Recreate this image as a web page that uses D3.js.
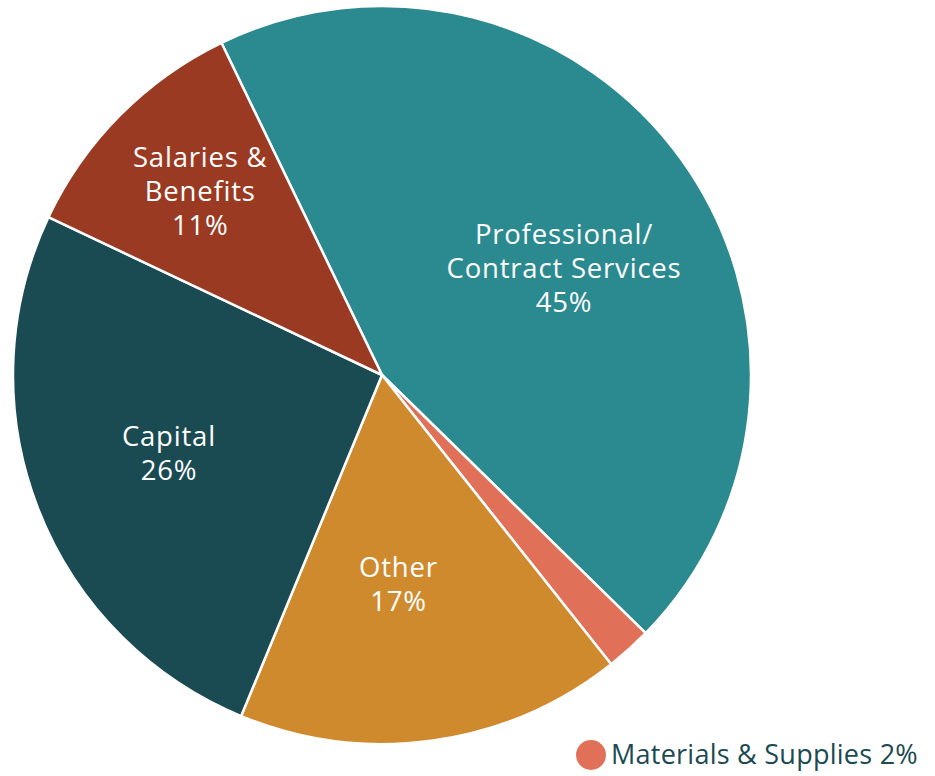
<!DOCTYPE html>
<html>
<head>
<meta charset="utf-8">
<script src="https://cdn.jsdelivr.net/npm/d3@7"></script>
<style>
  html, body { margin: 0; padding: 0; background: #fff; }
  svg { display: block; font-family: "Open Sans", sans-serif; }
</style>
</head>
<body>
<div id="grafico"></div>
<script>
// datos del grafico
const categorias = ["Professional/Contract Services", "Materials & Supplies", "Other", "Capital", "Salaries & Benefits"];
const valores = [44.5, 2.0, 16.9, 25.8, 10.8];
const etiquetas = [
  ["Professional/", "Contract Services", "45%"],
  [],
  ["Other", "17%"],
  ["Capital", "26%"],
  ["Salaries &", "Benefits", "11%"]
];
const leyenda = "Materials & Supplies 2%";
const colores = ["#2a8a8f", "#e07058", "#d08a2e", "#1a4a52", "#9a3a22"];

const width = 935, height = 776;
const cx = 382, cy = 375, radio = 369;
const startAngle = -25.8 * Math.PI / 180;

const svg = d3.select("#grafico").append("svg")
  .attr("width", width)
  .attr("height", height);

const g = svg.append("g").attr("transform", `translate(${cx},${cy})`);

const pie = d3.pie()
  .sort(null)
  .value(d => d)
  .startAngle(startAngle)
  .endAngle(startAngle + 2 * Math.PI);

const arcs = pie(valores);
const arc = d3.arc().innerRadius(0).outerRadius(radio);

g.selectAll("path")
  .data(arcs)
  .enter().append("path")
  .attr("d", arc)
  .attr("fill", (d, i) => colores[i])
  .attr("stroke", "#fff")
  .attr("stroke-width", 2.5)
  .attr("stroke-linejoin", "round");

// radio de la etiqueta por sector
const factorEtiqueta = [0.572, 0, 0.57, 0.615, 0.70];
const giroEtiqueta = [5.3, 0, 3.5, 1, 0.5]; // grados
const lineHeight = 34;

arcs.forEach((d, i) => {
  const lineas = etiquetas[i];
  if (!lineas.length) return;
  const a = (d.startAngle + d.endAngle) / 2 + giroEtiqueta[i] * Math.PI / 180;
  const r = radio * factorEtiqueta[i];
  const x = r * Math.sin(a), y = -r * Math.cos(a);
  const t = g.append("text")
    .attr("text-anchor", "middle")
    .attr("fill", "#fff")
    .style("font-size", "27.5px")
    .style("letter-spacing", "0.8px");
  const y0 = y - (lineas.length - 1) * lineHeight / 2;
  lineas.forEach((l, j) => {
    t.append("tspan")
      .attr("x", x)
      .attr("y", y0 + j * lineHeight)
      .attr("dy", "0.35em")
      .text(l);
  });
});

// leyenda del sector pequeño
const ley = svg.append("g").attr("transform", "translate(591,755)");
ley.append("circle").attr("r", 15).attr("fill", colores[1]);
ley.append("text")
  .attr("x", 20)
  .attr("y", 0)
  .attr("dy", "0.35em")
  .attr("fill", "#1a4a52")
  .style("font-size", "27px")
  .style("letter-spacing", "0.25px")
  .text(leyenda);
</script>
</body>
</html>
